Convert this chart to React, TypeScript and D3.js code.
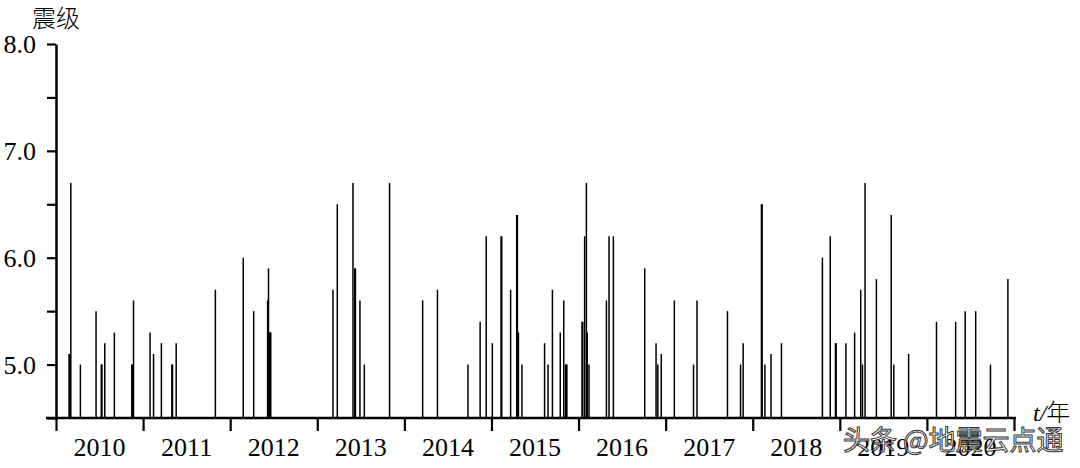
import { useEffect, useRef } from 'react';
import * as d3 from 'd3';

// event time as decimal year, magnitude
const eventTimes = [
  2010.15, 2010.158, 2010.17, 2010.28, 2010.46, 2010.52, 2010.528, 2010.56, 2010.67,
  2010.87, 2010.878, 2010.89, 2011.08, 2011.12, 2011.21, 2011.33, 2011.338, 2011.38,
  2011.83, 2012.15, 2012.27, 2012.43, 2012.44, 2012.45, 2012.458, 2012.466,
  2013.18, 2013.23, 2013.41, 2013.43, 2013.438, 2013.49, 2013.54, 2013.83,
  2014.21, 2014.38, 2014.73, 2014.87, 2014.94, 2015.01, 2015.11, 2015.118,
  2015.22, 2015.29, 2015.298, 2015.31, 2015.35, 2015.61, 2015.65, 2015.70,
  2015.79, 2015.83, 2015.85, 2015.858, 2015.866, 2016.04, 2016.048, 2016.07,
  2016.09, 2016.10, 2016.12, 2016.32, 2016.35, 2016.40, 2016.76, 2016.89,
  2016.91, 2016.95, 2017.10, 2017.32, 2017.36, 2017.71, 2017.86, 2017.89,
  2018.10, 2018.108, 2018.14, 2018.21, 2018.33, 2018.80, 2018.89, 2018.95,
  2018.958, 2019.07, 2019.17, 2019.24, 2019.26, 2019.29, 2019.42, 2019.59,
  2019.62, 2019.79, 2020.11, 2020.33, 2020.44, 2020.56, 2020.73, 2020.93,
];
const magnitudes = [
  5.1, 5.1, 6.7, 5.0, 5.5, 5.0, 5.0, 5.2, 5.3,
  5.0, 5.0, 5.6, 5.3, 5.1, 5.2, 5.0, 5.0, 5.2,
  5.7, 6.0, 5.5, 5.6, 5.9, 5.3, 5.3, 5.3,
  5.7, 6.5, 6.7, 5.9, 5.9, 5.6, 5.0, 6.7,
  5.6, 5.7, 5.0, 5.4, 6.2, 5.2, 6.2, 6.2,
  5.7, 6.4, 6.4, 5.3, 5.0, 5.2, 5.0, 5.7,
  5.3, 5.6, 5.0, 5.0, 5.0, 5.4, 5.4, 6.2,
  6.7, 5.3, 5.0, 5.6, 6.2, 6.2, 5.9, 5.2,
  5.0, 5.1, 5.6, 5.0, 5.6, 5.5, 5.0, 5.2,
  6.5, 6.5, 5.0, 5.1, 5.2, 6.0, 6.2, 5.2,
  5.2, 5.2, 5.3, 5.7, 5.0, 6.7, 5.8, 6.4,
  5.0, 5.1, 5.4, 5.4, 5.5, 5.5, 5.0, 5.8,
];
const years = [2010, 2011, 2012, 2013, 2014, 2015, 2016, 2017, 2018, 2019, 2020];
const yTicks = [4.5, 5.0, 5.5, 6.0, 6.5, 7.0, 7.5, 8.0];
const yLabels = [5.0, 6.0, 7.0, 8.0];

const serif = "'Liberation Serif', 'Times New Roman', Times, 'DejaVu Serif', serif";
const cjk = "'Noto Sans CJK SC', sans-serif";

export default function App() {
  const svgRef = useRef<SVGSVGElement>(null);

  useEffect(() => {
    if (!svgRef.current) return;
    const svg = d3.select(svgRef.current);
    svg.selectAll('*').remove();

    const x = d3.scaleLinear().domain([2010, 2021]).range([56, 1014]);
    const y = d3.scaleLinear().domain([4.5, 8.0]).range([418, 44]);
    const base = y(4.5);

    // bars
    svg.append('g')
      .selectAll('line')
      .data(eventTimes.map((t, i) => ({ t, m: magnitudes[i] })))
      .join('line')
      .attr('x1', d => x(d.t))
      .attr('x2', d => x(d.t))
      .attr('y1', base)
      .attr('y2', d => y(d.m))
      .attr('stroke', '#000')
      .attr('stroke-width', 1.5);

    // y axis
    const yAxis = svg.append('g').attr('transform', `translate(${x(2010)},0)`);
    yAxis.call(d3.axisLeft(y).tickValues(yTicks).tickSize(9).tickSizeOuter(0).tickFormat(() => ''));
    yAxis.select('.domain').attr('stroke-width', 2.5);
    yAxis.selectAll('.tick line').attr('stroke-width', 2.2);

    svg.append('g')
      .selectAll('text')
      .data(yLabels)
      .join('text')
      .attr('x', 36)
      .attr('y', d => y(d))
      .attr('dy', '0.35em')
      .attr('text-anchor', 'end')
      .attr('font-family', serif)
      .attr('font-size', 26)
      .text(d => d.toFixed(1));

    // x axis
    const xAxis = svg.append('g').attr('transform', `translate(0,${base})`);
    xAxis.call(
      d3.axisBottom(x)
        .tickValues([...years, 2021])
        .tickSize(13)
        .tickSizeOuter(0)
        .tickFormat(() => '')
    );
    xAxis.select('.domain').attr('stroke-width', 2.5).attr('d', `M46,0H1016`);
    xAxis.selectAll('.tick line').attr('stroke-width', 2.2);

    svg.append('g')
      .selectAll('text')
      .data(years)
      .join('text')
      .attr('x', d => x(d + 0.5))
      .attr('y', 456)
      .attr('text-anchor', 'middle')
      .attr('font-family', serif)
      .attr('font-size', 26)
      .text(d => String(d));

    // axis titles
    svg.append('text')
      .attr('x', 32)
      .attr('y', 27)
      .attr('font-family', cjk)
      .attr('font-size', 24)
      .attr('font-weight', 300)
      .text('震级');

    const tl = svg.append('text')
      .attr('x', 1033)
      .attr('y', 421)
      .attr('font-size', 24);
    tl.append('tspan').attr('font-family', serif).attr('font-style', 'italic').text('t/');
    tl.append('tspan').attr('font-family', cjk).attr('font-weight', 300).text('年');

    // watermark
    svg.append('text')
      .attr('x', 843)
      .attr('y', 450)
      .attr('font-family', cjk)
      .attr('font-size', 27)
      .attr('fill', '#fff')
      .attr('stroke', '#222')
      .attr('stroke-width', 1)
      .attr('opacity', 0.9)
      .text('头条 @地震云点通');
  }, []);

  return (
    <svg
      ref={svgRef}
      width={1080}
      height={468}
      style={{ position: 'absolute', left: 0, top: 0, background: '#fff' }}
    />
  );
}
